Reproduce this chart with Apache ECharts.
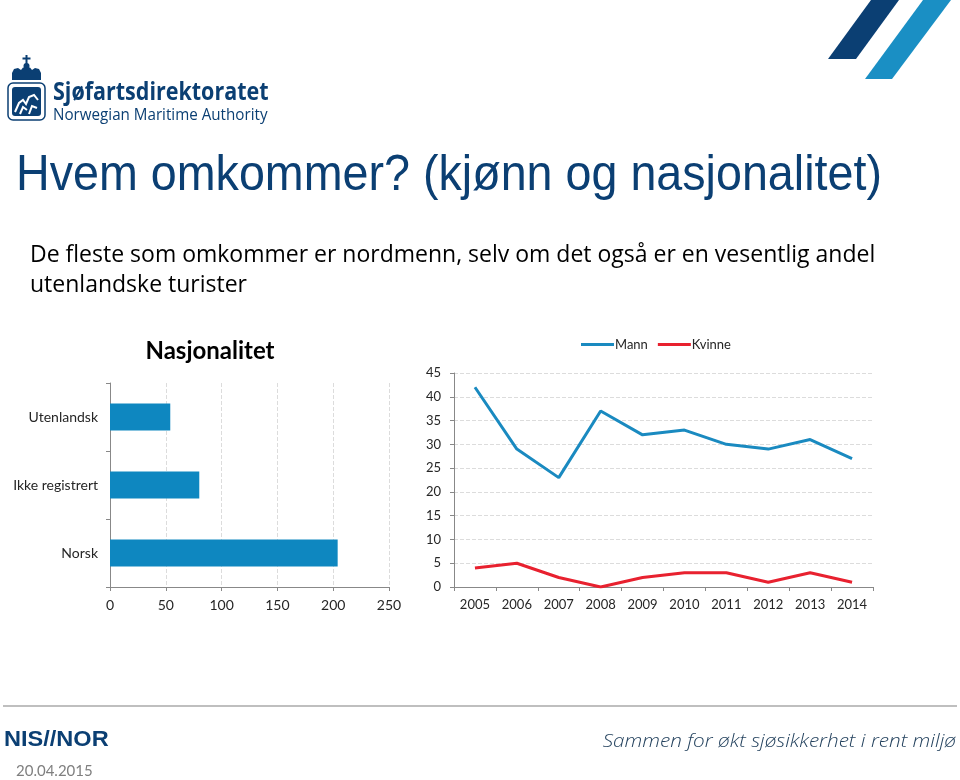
<!DOCTYPE html>
<html>
<head>
<meta charset="utf-8">
<script src="https://cdn.jsdelivr.net/npm/echarts@6/dist/echarts.min.js"></script>
<style>
html,body{margin:0;padding:0;background:#fff;}
#chart{width:960px;height:780px;}
</style>
</head>
<body>
<div id="chart"></div>
<script>
// ---- data ----
const natCategories = ["Norsk", "Ikke registrert", "Utenlandsk"];
const natValues = [204, 80, 54];
const years = ["2005","2006","2007","2008","2009","2010","2011","2012","2013","2014"];
const mannValues = [42, 29, 23, 37, 32, 33, 30, 29, 31, 27];
const kvinneValues = [4, 5, 2, 0, 2, 3, 3, 1, 3, 1];
const seriesNames = ["Mann", "Kvinne"];

const chart = echarts.init(document.getElementById('chart'));
const FONT = 'Lato';
const DARK = '#0b3f73';
const axisLabelStyle = {color:'#262626', fontFamily:FONT, fontSize:13};

chart.setOption({
  animation:false,
  backgroundColor:'#fff',
  graphic:[
    // top-right decorative stripes
    {type:'polygon', shape:{points:[[871,0],[899,0],[856,59],[828,59]]}, style:{fill:DARK}},
    {type:'polygon', shape:{points:[[923,0],[951,0],[892,79],[865,79]]}, style:{fill:'#1a8fc4'}},
    // logo mark: crown
    {type:'rect', shape:{x:25.5,y:55,width:2,height:9}, style:{fill:DARK}},
    {type:'rect', shape:{x:22.5,y:57.5,width:8,height:2}, style:{fill:DARK}},
    {type:'circle', shape:{cx:26.5,cy:66,r:3}, style:{fill:DARK}},
    {type:'polygon', shape:{points:[[12,80],[12,73],[14,69],[18,68],[21,70],[23,67.5],[30,67.5],[32,70],[35,68],[39,69],[41,73],[41,80]]}, style:{fill:DARK}},
    // logo mark: shield
    {type:'rect', shape:{x:8,y:83,width:37,height:37,r:5}, style:{fill:'#fff',stroke:DARK,lineWidth:1.5}},
    {type:'rect', shape:{x:12,y:87,width:29,height:29,r:3}, style:{fill:DARK}},
    {type:'polyline', shape:{points:[[15,112],[19,103],[23,100],[26,104],[29,97],[34,95],[38,100]]}, style:{stroke:'#fff',lineWidth:2,fill:null}},
    {type:'polyline', shape:{points:[[20,114],[23,107],[27,110]]}, style:{stroke:'#fff',lineWidth:2,fill:null}},
    {type:'polyline', shape:{points:[[29,114],[32,106],[37,108]]}, style:{stroke:'#fff',lineWidth:2,fill:null}},
    {type:'text', x:53, y:80, scaleX:0.86, style:{x:0,y:0,text:'Sjøfartsdirektoratet',fill:DARK,font:'bold 25px "Open Sans"'}},
    {type:'text', x:53, y:107, scaleX:0.92, style:{x:0,y:0,text:'Norwegian Maritime Authority',fill:DARK,font:'16.5px "Open Sans"'}},
    // slide title
    {type:'text', x:16, y:151, scaleX:0.933, style:{x:0,y:0,text:'Hvem omkommer? (kjønn og nasjonalitet)',fill:DARK,font:'50px "Liberation Sans"'}},
    {type:'text', style:{x:30,y:244,text:'De fleste som omkommer er nordmenn, selv om det også er en vesentlig andel',fill:'#000',font:'23px "Open Sans"'}},
    {type:'text', style:{x:30,y:274,text:'utenlandske turister',fill:'#000',font:'23px "Open Sans"'}},
    // bar chart title
    {type:'text', style:{x:210,y:351,text:'Nasjonalitet',fill:'#000',font:'bold 24px Lato',align:'center',verticalAlign:'middle'}},
    // footer
    {type:'line', shape:{x1:3,y1:706,x2:957,y2:706}, style:{stroke:'#bfbfbf',lineWidth:2}},
    {type:'text', x:4, y:729, scaleX:1.07, style:{x:0,y:0,text:'NIS//NOR',fill:DARK,font:'bold 22px "Liberation Sans"'}},
    {type:'text', x:956, y:732.5, scaleX:1.15, style:{x:0,y:0,text:'Sammen for økt sjøsikkerhet i rent miljø',fill:'#24425e',font:'italic 300 18px "Open Sans"',align:'right'}},
    {type:'text', style:{x:16,y:764,text:'20.04.2015',fill:'#7f7f7f',font:'15px Lato'}}
  ],
  legend:{
    data:seriesNames,
    left:576, top:333,
    itemWidth:33, itemHeight:3, itemGap:10,
    icon:'rect',
    textStyle:{color:'#262626',fontFamily:FONT,fontSize:13,padding:[0,0,0,-4]}
  },
  grid:[
    {left:110, right:571, top:383, bottom:193},
    {left:454, right:87, top:373, bottom:193}
  ],
  xAxis:[
    {gridIndex:0, type:'value', min:0, max:250, interval:50,
     axisLine:{show:true,lineStyle:{color:'#888'}},
     axisTick:{show:true,length:4,lineStyle:{color:'#888'}},
     axisLabel:Object.assign({margin:11},axisLabelStyle,{fontSize:14}),
     splitLine:{show:true,lineStyle:{color:'#dcdcdc',type:'dashed'}}},
    {gridIndex:1, type:'category', data:years, boundaryGap:true,
     axisLine:{lineStyle:{color:'#888'}},
     axisTick:{show:true,length:4,lineStyle:{color:'#888'}},
     axisLabel:Object.assign({margin:11},axisLabelStyle)}
  ],
  yAxis:[
    {gridIndex:0, type:'category', data:natCategories, boundaryGap:true,
     axisLine:{lineStyle:{color:'#888'}},
     axisTick:{show:true,length:4,lineStyle:{color:'#888'}},
     axisLabel:Object.assign({margin:12},axisLabelStyle,{fontSize:14})},
    {gridIndex:1, type:'value', min:0, max:45, interval:5,
     axisLine:{show:true,lineStyle:{color:'#888'}},
     axisTick:{show:true,length:4,lineStyle:{color:'#888'}},
     axisLabel:Object.assign({margin:13},axisLabelStyle),
     splitLine:{show:true,lineStyle:{color:'#dcdcdc',type:'dashed'}}}
  ],
  series:[
    {type:'bar', xAxisIndex:0, yAxisIndex:0, data:natValues, barWidth:27,
     itemStyle:{color:'#0e87c0'}, silent:true},
    {name:seriesNames[0], type:'line', xAxisIndex:1, yAxisIndex:1, data:mannValues,
     showSymbol:false, lineStyle:{width:3,color:'#1a8ac0'}, itemStyle:{color:'#1a8ac0'}},
    {name:seriesNames[1], type:'line', xAxisIndex:1, yAxisIndex:1, data:kvinneValues,
     showSymbol:false, lineStyle:{width:3,color:'#e8212f'}, itemStyle:{color:'#e8212f'}}
  ]
});
</script>
</body>
</html>
